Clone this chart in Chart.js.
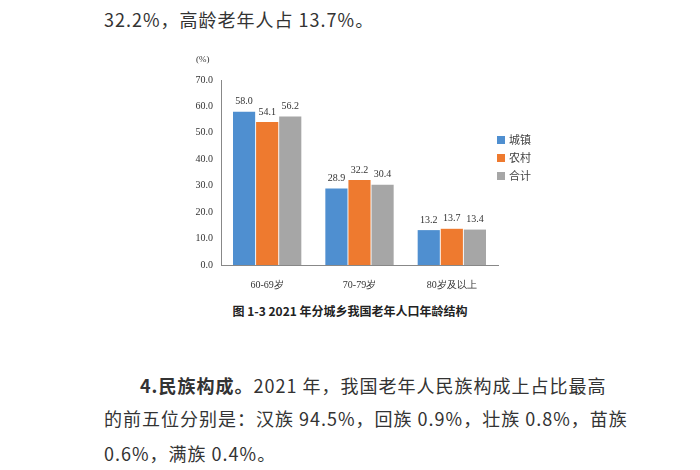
<!DOCTYPE html>
<html><head><meta charset="utf-8">
<script src="https://cdn.jsdelivr.net/npm/chart.js@4"></script>
<style>
body{margin:0;width:700px;height:470px;background:#fff;position:relative;overflow:hidden;font-family:"Noto Sans CJK SC","Noto Sans",sans-serif;color:#333}
.t{position:absolute;font-size:18px;white-space:nowrap;letter-spacing:1px}
#wrap{position:absolute;left:160px;top:50px;width:380px;height:250px}
#cap{position:absolute;left:0;width:700px;top:302px;text-align:center;font-size:12px;font-weight:bold;color:#222}
</style></head><body>
<div class="t" style="left:104px;top:6px">32.2%，高龄老年人占 13.7%。</div>
<div id="wrap"><canvas id="c"></canvas></div>
<div id="cap">图 1-3 2021 年分城乡我国老年人口年龄结构</div>
<div class="t" style="left:140px;top:372px"><b>4.民族构成。</b>2021 年，我国老年人民族构成上占比最高</div>
<div class="t" style="left:104px;top:405px">的前五位分别是：汉族 94.5%，回族 0.9%，壮族 0.8%，苗族</div>
<div class="t" style="left:104px;top:440px">0.6%，满族 0.4%。</div>
<script>
const categories=["60-69岁","70-79岁","80岁及以上"];
const seriesNames=["城镇","农村","合计"];
const urban=[58.0,28.9,13.2];
const rural=[54.1,32.2,13.7];
const total=[56.2,30.4,13.4];
const yTicks=[0,10,20,30,40,50,60,70];
const colors=["#4f8fd0","#ee7a2f","#a6a6a6"];
const serif='"Liberation Serif","DejaVu Serif",serif';
const labelsPlugin={id:'vals',afterDatasetsDraw(ch){const c=ch.ctx;c.save();c.font='10px '+serif;c.fillStyle='#333';c.textAlign='center';c.textBaseline='bottom';
ch.data.datasets.forEach((ds,i)=>{ch.getDatasetMeta(i).data.forEach((b,j)=>{c.fillText(ds.data[j].toFixed(1),b.x,b.y-5);});});
c.font='9px '+serif;c.textAlign='left';c.textBaseline='middle';c.fillText('(%)',36,10);
ch.data.datasets.forEach((ds,i)=>{const y=90+i*18;c.fillStyle=ds.backgroundColor;c.fillRect(337,y-4,8,8);c.fillStyle='#444';c.font='11px "Noto Sans CJK SC"';c.fillText(ds.label,349,y);});
c.restore();}};
new Chart(document.getElementById('c'),{type:'bar',
data:{labels:categories,datasets:[urban,rural,total].map((d,i)=>({label:seriesNames[i],data:d,backgroundColor:colors[i],categoryPercentage:0.75,barPercentage:0.96}))},
options:{responsive:true,maintainAspectRatio:false,animation:false,
layout:{padding:{top:30,right:42,left:0,bottom:0}},
plugins:{legend:{display:false},tooltip:{enabled:false}},
scales:{
y:{min:0,max:70,afterFit(s){s.width=61;},afterBuildTicks(s){s.ticks=yTicks.map(v=>({value:v}));},
ticks:{callback:v=>v.toFixed(1),font:{family:serif,size:10},color:'#333',padding:4},
grid:{display:false,drawTicks:true,tickLength:4,color:'#888'},border:{color:'#888'}},
x:{afterFit(s){s.height=35;},ticks:{font:{family:serif,size:10},color:'#333',padding:6},
grid:{display:false},border:{color:'#888'}}}},
plugins:[labelsPlugin]});
</script></body></html>
